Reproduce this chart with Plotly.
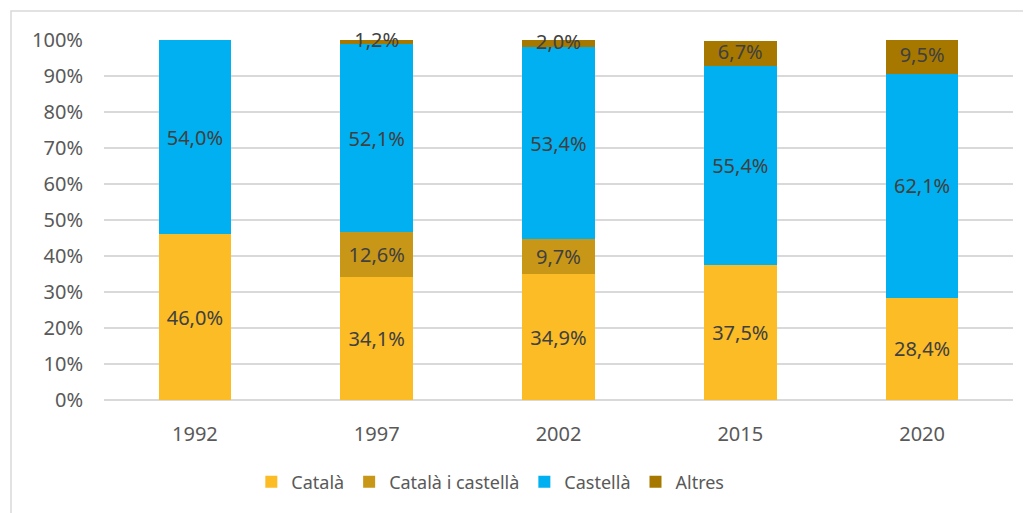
import plotly.graph_objects as go

years = ["1992", "1997", "2002", "2015", "2020"]
catala = [46.0, 34.1, 34.9, 37.5, 28.4]
catala_castella = [0, 12.6, 9.7, 0, 0]
castella = [54.0, 52.1, 53.4, 55.4, 62.1]
altres = [0, 1.2, 2.0, 6.7, 9.5]

series = [
    ("Català", catala, "#FBBC26"),
    ("Català i castellà", catala_castella, "#C99717"),
    ("Castellà", castella, "#00B0F0"),
    ("Altres", altres, "#A67800"),
]


def fmt(v):
    return "" if v == 0 else f"{v:.1f}%".replace(".", ",")


fig = go.Figure()
for name, vals, color in series:
    fig.add_trace(go.Bar(
        x=years,
        y=vals,
        name=name,
        marker=dict(color=color, line=dict(width=0)),
        # Altres labels are drawn separately below (the thin 1997 slice hides its text)
        text=[fmt(v) for v in vals] if name != "Altres" else None,
        textposition="inside",
        insidetextanchor="middle",
        constraintext="none",
        textfont=dict(color="#404040", size=20),
        width=0.4,
    ))

# labels for the top slice, centred on each slice
base = [a + b + c for a, b, c in zip(catala, catala_castella, castella)]
fig.add_trace(go.Scatter(
    x=years,
    y=[b + v / 2 for b, v in zip(base, altres)],
    text=[fmt(v) for v in altres],
    mode="text",
    textposition="middle center",
    textfont=dict(color="#404040", size=20),
    cliponaxis=False,
    showlegend=False,
    hoverinfo="skip",
))

# the page body adds an 8px offset, so the figure is sized to compensate
W, H = 1023, 505
ml, mr, mt, mb = 96, 18, 32, 113
pw, ph = W - ml - mr, H - mt - mb

# light border around the chart area
fig.add_shape(
    type="rect", xref="paper", yref="paper",
    x0=(3 - ml) / pw, x1=(W + 5 - ml) / pw,
    y0=-(mb + 5) / ph, y1=(H - mb - 3) / ph,
    line=dict(color="#D9D9D9", width=1.5), fillcolor="rgba(0,0,0,0)",
    layer="below",
)

fig.update_layout(
    barmode="stack",
    width=W, height=H,
    margin=dict(l=ml, r=mr, t=mt, b=mb),
    paper_bgcolor="white", plot_bgcolor="white",
    font=dict(family="Noto Sans", size=20, color="#595959"),
    showlegend=True,
    legend=dict(
        orientation="h", x=0.425, xanchor="center",
        yref="container", y=(H - 474) / H, yanchor="middle",
        font=dict(size=18, color="#595959"), traceorder="normal",
        itemwidth=30, tracegroupgap=0,
    ),
    xaxis=dict(showgrid=False, showline=False, ticks="",
               tickfont=dict(size=20), ticklabelstandoff=20),
    yaxis=dict(
        range=[0, 100], dtick=10, ticksuffix="%",
        showgrid=True, gridcolor="#D9D9D9", gridwidth=1.5,
        zeroline=True, zerolinecolor="#D9D9D9", zerolinewidth=1.5,
        tickfont=dict(size=20), ticklabelstandoff=20,
    ),
)

fig.write_html("out.html")
